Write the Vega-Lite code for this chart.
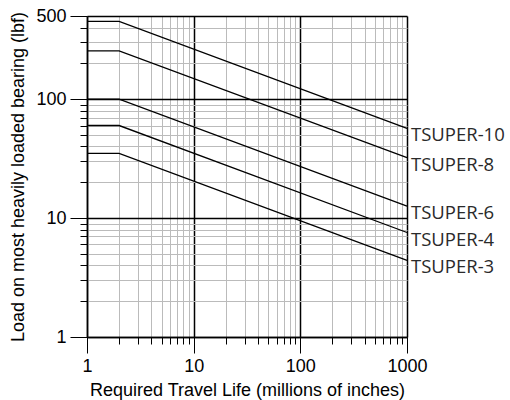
{
  "$schema": "https://vega.github.io/schema/vega-lite/v6.json",
  "width": 320,
  "height": 321,
  "autosize": "none",
  "padding": {"left": 87, "top": 16, "right": 103, "bottom": 63},
  "background": "white",
  "config": {"view": {"stroke": null}, "font": "Liberation Sans"},
  "datasets": {
    "lines": [
      {"series": "TSUPER-10", "life": 1, "load": 450},
      {"series": "TSUPER-10", "life": 2, "load": 450},
      {"series": "TSUPER-10", "life": 1000, "load": 56.7},
      {"series": "TSUPER-8", "life": 1, "load": 255},
      {"series": "TSUPER-8", "life": 2, "load": 255},
      {"series": "TSUPER-8", "life": 1000, "load": 32.2},
      {"series": "TSUPER-6", "life": 1, "load": 100},
      {"series": "TSUPER-6", "life": 2, "load": 100},
      {"series": "TSUPER-6", "life": 1000, "load": 12.6},
      {"series": "TSUPER-4", "life": 1, "load": 60},
      {"series": "TSUPER-4", "life": 2, "load": 60},
      {"series": "TSUPER-4", "life": 1000, "load": 7.56},
      {"series": "TSUPER-3", "life": 1, "load": 35},
      {"series": "TSUPER-3", "life": 2, "load": 35},
      {"series": "TSUPER-3", "life": 1000, "load": 4.41}
    ],
    "labels": [
      {"series": "TSUPER-10", "life": 1000, "load": 56.7},
      {"series": "TSUPER-8", "life": 1000, "load": 32.2},
      {"series": "TSUPER-6", "life": 1000, "load": 12.6},
      {"series": "TSUPER-4", "life": 1000, "load": 7.56},
      {"series": "TSUPER-3", "life": 1000, "load": 4.41}
    ]
  },
  "layer": [
    {
      "data": {"name": "lines"},
      "mark": {"type": "line", "color": "black", "strokeWidth": 1.3},
      "encoding": {
        "x": {
          "field": "life", "type": "quantitative",
          "scale": {"type": "log", "domain": [1, 1000], "nice": false},
          "axis": {
            "title": "Required Travel Life (millions of inches)",
            "values": [1,2,3,4,5,6,7,8,9,10,20,30,40,50,60,70,80,90,100,200,300,400,500,600,700,800,900,1000],
            "format": "d",
            "labelExpr": "indexof([1,10,100,1000], datum.value) >= 0 ? datum.label : ''",
            "labelOverlap": false,
            "labelFlush": false,
            "labelFontSize": 18,
            "labelColor": "black",
            "labelPadding": 4,
            "titleFontSize": 18,
            "titleFontWeight": "normal",
            "titleColor": "black",
            "titlePadding": 6,
            "domainColor": "black",
            "domainWidth": 1.5,
            "tickColor": "black",
            "tickSize": {"condition": {"test": "indexof([1,10,100,1000], datum.value) >= 0", "value": 16}, "value": 7},
            "grid": true,
            "gridColor": {"condition": {"test": "indexof([1,10,100,1000], datum.value) >= 0", "value": "black"}, "value": "#bbbbbb"},
            "gridWidth": {"condition": {"test": "indexof([1,10,100,1000], datum.value) >= 0", "value": 1.5}, "value": 1}
          }
        },
        "y": {
          "field": "load", "type": "quantitative",
          "scale": {"type": "log", "domain": [1, 500], "nice": false},
          "axis": {
            "title": "Load on most heavily loaded bearing (lbf)",
            "values": [1,2,3,4,5,6,7,8,9,10,20,30,40,50,60,70,80,90,100,200,300,400,500],
            "format": "d",
            "labelExpr": "indexof([1,10,100,500], datum.value) >= 0 ? datum.label : ''",
            "labelOverlap": false,
            "labelFlush": false,
            "labelFontSize": 18,
            "labelColor": "black",
            "labelPadding": 4,
            "titleFontSize": 18,
            "titleFontWeight": "normal",
            "titleColor": "black",
            "titlePadding": 8,
            "domainColor": "black",
            "domainWidth": 1.5,
            "tickColor": "black",
            "tickSize": {"condition": {"test": "indexof([1,10,100,500], datum.value) >= 0", "value": 17}, "value": 7},
            "grid": true,
            "gridColor": {"condition": {"test": "indexof([1,10,100,500], datum.value) >= 0", "value": "black"}, "value": "#bbbbbb"},
            "gridWidth": {"condition": {"test": "indexof([1,10,100,500], datum.value) >= 0", "value": 1.5}, "value": 1}
          }
        },
        "detail": {"field": "series"}
      }
    },
    {
      "data": {"name": "labels"},
      "mark": {"type": "text", "align": "left", "baseline": "middle", "dx": 4, "dy": 7, "fontSize": 18.5, "font": "Open Sans", "color": "#2a2a2a"},
      "encoding": {
        "x": {"field": "life", "type": "quantitative", "scale": {"type": "log", "domain": [1, 1000], "nice": false}},
        "y": {"field": "load", "type": "quantitative", "scale": {"type": "log", "domain": [1, 500], "nice": false}},
        "text": {"field": "series"}
      }
    }
  ]
}
